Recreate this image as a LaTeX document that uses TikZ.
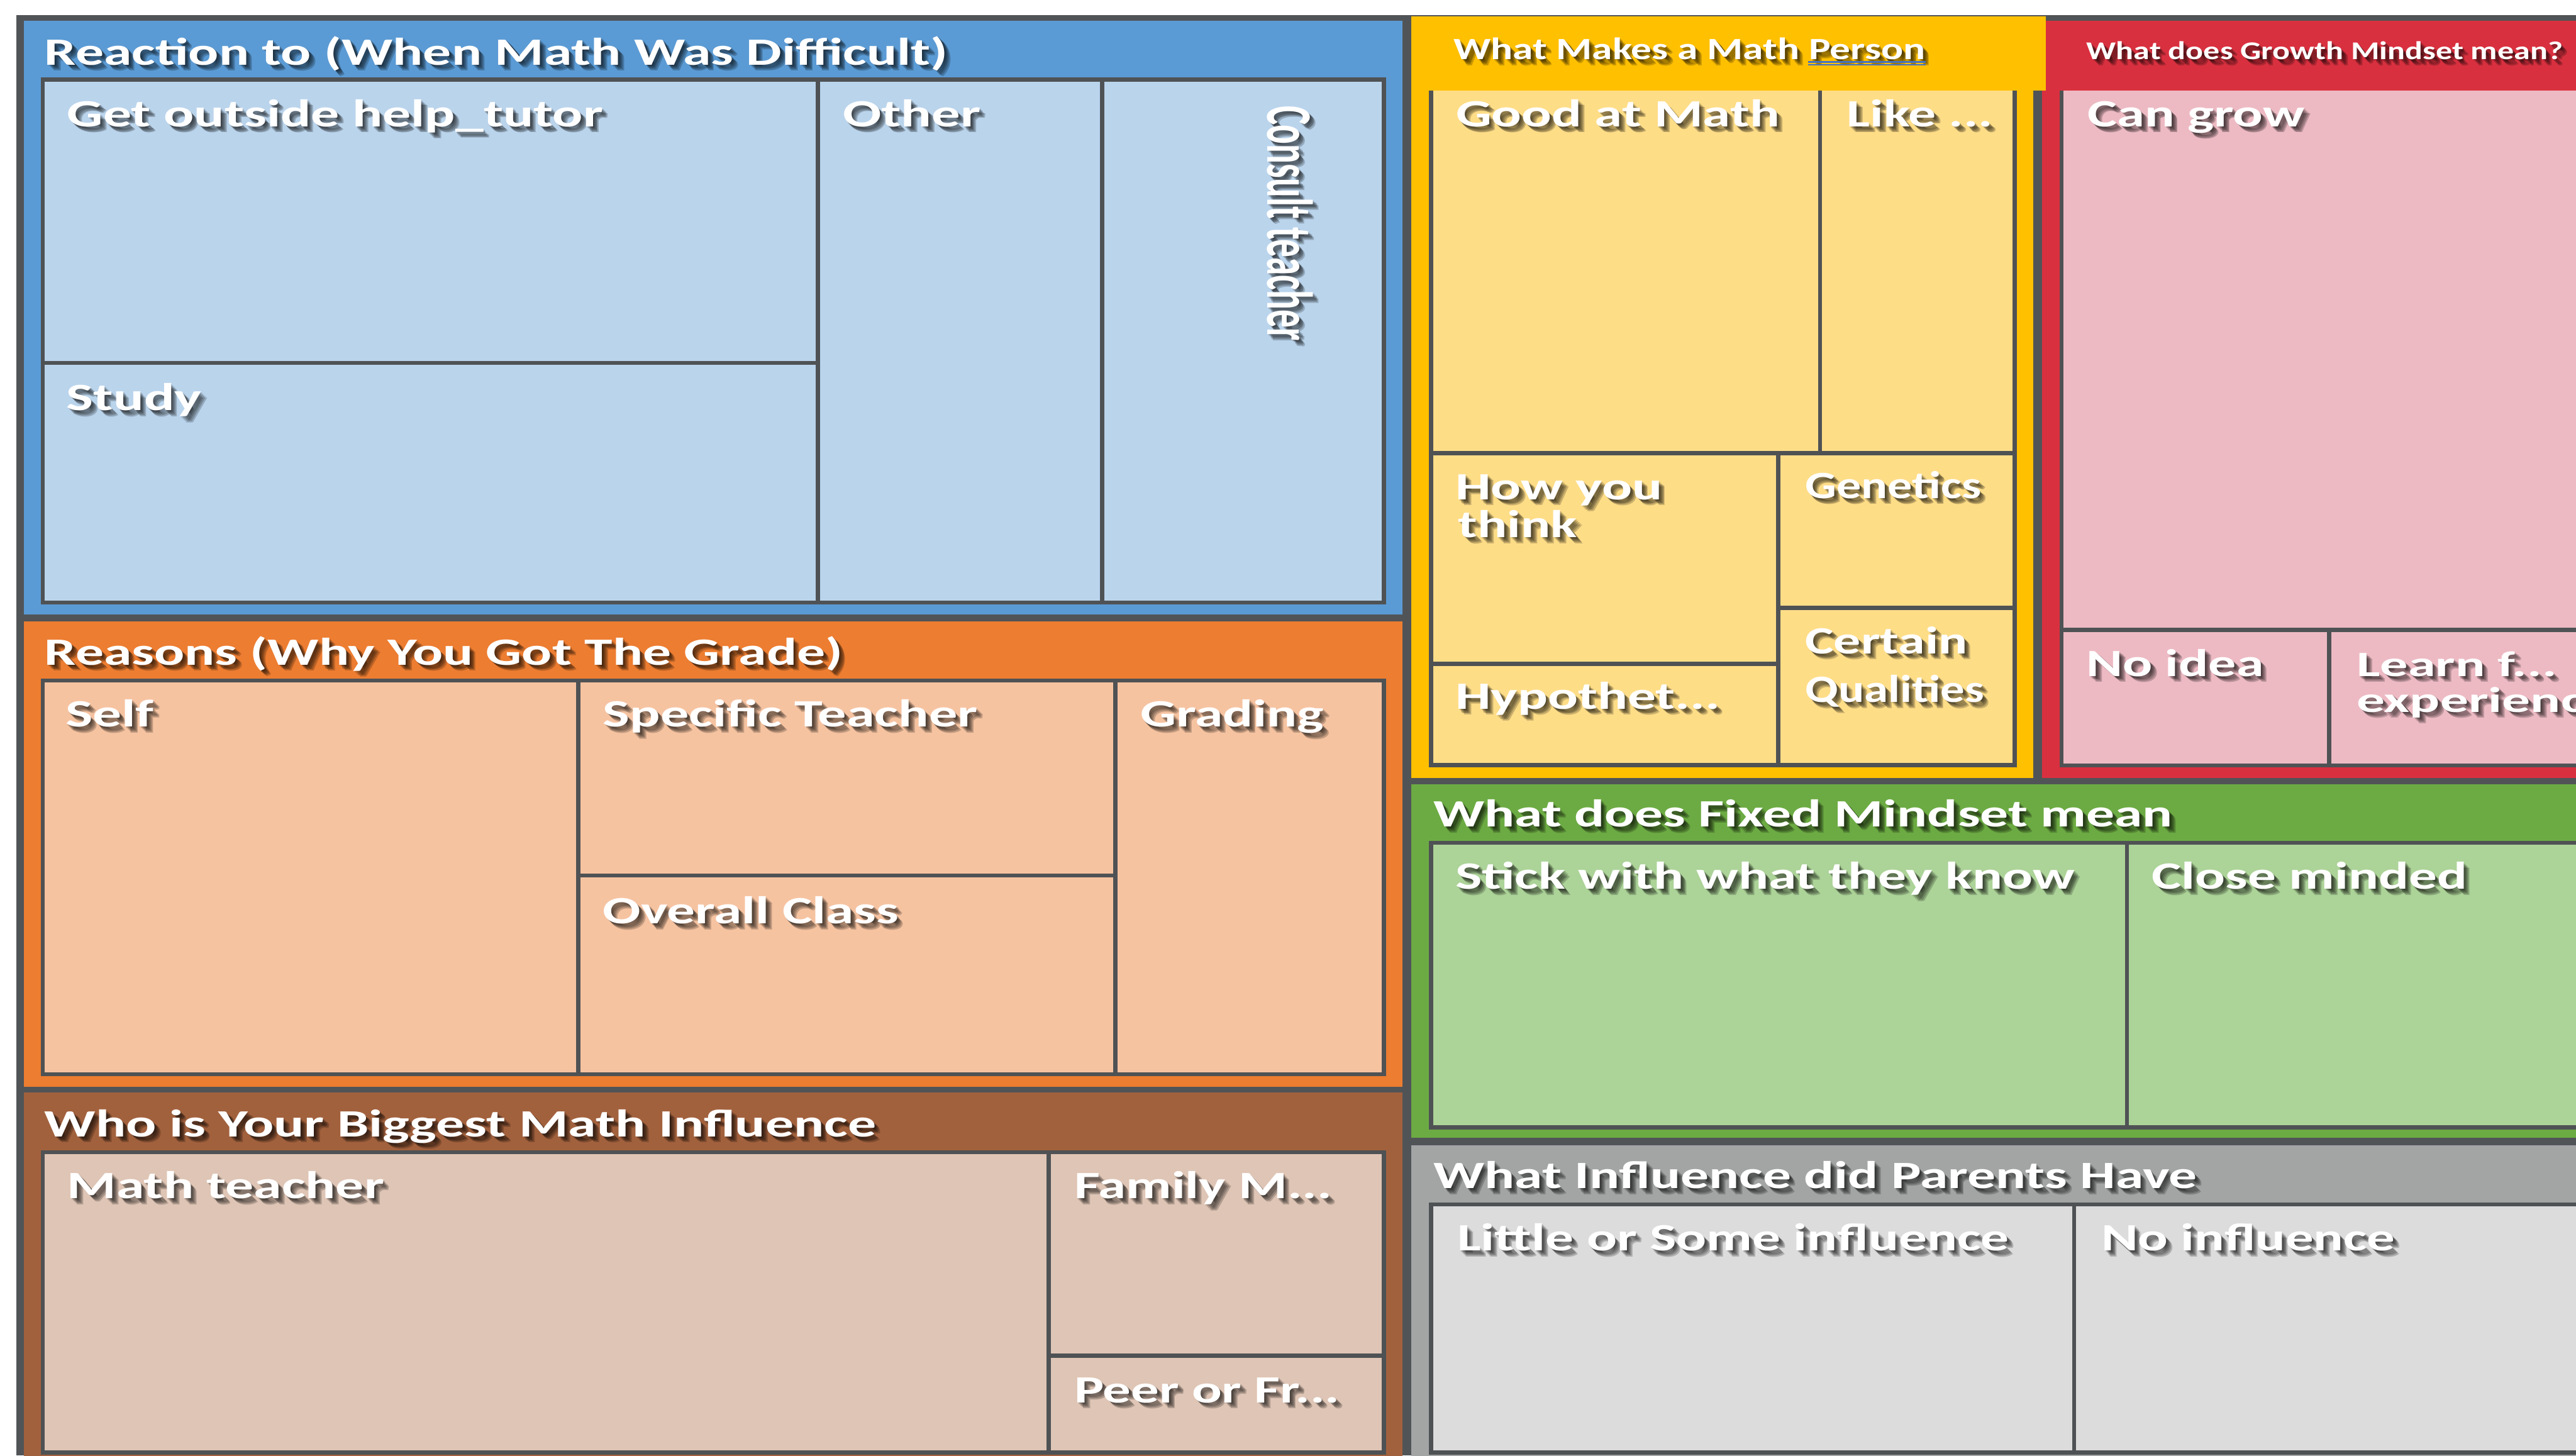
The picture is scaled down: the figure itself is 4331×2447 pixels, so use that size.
\documentclass[tikz,border=0pt]{standalone}
\usepackage{fontspec}
\usepackage{graphicx}
\newfontfamily\carl{Carlito}
\definecolor{dk}{HTML}{515457}
\definecolor{bordc}{HTML}{4F5254}
\definecolor{bF}{HTML}{5B9BD5}\definecolor{bL}{HTML}{BAD4EC}
\definecolor{oF}{HTML}{ED7D31}\definecolor{oL}{HTML}{F6C3A1}
\definecolor{wF}{HTML}{A2613D}\definecolor{wL}{HTML}{DFC5B5}
\definecolor{yF}{HTML}{FFC000}\definecolor{yL}{HTML}{FEDD87}
\definecolor{rF}{HTML}{D9303F}\definecolor{rL}{HTML}{EDBAC3}
\definecolor{gF}{HTML}{6CAB43}\definecolor{gL}{HTML}{ACD398}
\definecolor{pF}{HTML}{A3A5A5}\definecolor{pL}{HTML}{DCDCDC}
\definecolor{ulc}{HTML}{4472C4}
\newsavebox\fwbox
\newlength\fwlen
\newcommand\fw[2]{\sbox\fwbox{#2}\fwlen=\wd\fwbox\pgfmathsetmacro\fwr{#1/\fwlen}\scalebox{\fwr}[1]{\usebox\fwbox}}
\newcommand\lab[6][]{%
  \foreach \sh in {2,4,6,8,10}{\node[shd,#1] at (#3+\sh,#4+\sh) {\fw{#5}{#6}};}
  \node[lbl,#1] (#2) at (#3,#4) {\fw{#5}{#6}};}
\tikzset{
  lbl/.style={text=white,inner sep=0pt,outer sep=0pt,anchor=base west,
    font=\carl\bfseries\fontsize{65}{70}\selectfont},
  shd/.style={lbl,text=black,opacity=0.2},
  cell/.style={draw=bordc,line width=7pt},
}
\begin{document}
\begin{tikzpicture}[x=1pt,y=-1pt]
\useasboundingbox (0,0) rectangle (4331,2447);
\clip (0,0) rectangle (4331,2447);
\fill[white] (0,0) rectangle (4331,2447);
\fill[dk] (27,25) rectangle (4331,2447);
% left column frames
\fill[bF] (40,35) rectangle (2358,1033);
\fill[oF] (40,1045) rectangle (2358,1827);
\fill[wF] (40,1837) rectangle (2358,2460);
% right column frames
\fill[rF] (3433,35) rectangle (4400,1308);
\fill[yF] (2373,28) rectangle (3418,1308);
\fill[gF] (2373,1318) rectangle (4400,1913);
\fill[pF] (2373,1925) rectangle (4400,2460);
% blue cells
\filldraw[cell,fill=bL] (72,134) rectangle (1375,610);
\filldraw[cell,fill=bL] (72,610) rectangle (1375,1013);
\filldraw[cell,fill=bL] (1375,134) rectangle (1853,1013);
\filldraw[cell,fill=bL] (1853,134) rectangle (2327,1013);
% orange cells
\filldraw[cell,fill=oL] (72,1144) rectangle (972,1806);
\filldraw[cell,fill=oL] (972,1144) rectangle (1875,1472);
\filldraw[cell,fill=oL] (972,1472) rectangle (1875,1806);
\filldraw[cell,fill=oL] (1875,1144) rectangle (2327,1806);
% brown cells
\filldraw[cell,fill=wL] (72,1937) rectangle (1763,2442);
\filldraw[cell,fill=wL] (1763,1937) rectangle (2327,2279);
\filldraw[cell,fill=wL] (1763,2279) rectangle (2327,2442);
% yellow cells
\filldraw[cell,fill=yL] (2406,148) rectangle (3060,762);
\filldraw[cell,fill=yL] (3060,148) rectangle (3387,762);
\filldraw[cell,fill=yL] (2406,762) rectangle (2990,1116);
\filldraw[cell,fill=yL] (2406,1116) rectangle (2990,1286);
\filldraw[cell,fill=yL] (2990,762) rectangle (3387,1022);
\filldraw[cell,fill=yL] (2990,1022) rectangle (3387,1286);
% red cells
\filldraw[cell,fill=rL] (3466,148) rectangle (4400,1059);
\filldraw[cell,fill=rL] (3466,1059) rectangle (3916,1287);
\filldraw[cell,fill=rL] (3916,1059) rectangle (4400,1287);
% green cells
\filldraw[cell,fill=gL] (2406,1417) rectangle (3576,1895);
\filldraw[cell,fill=gL] (3576,1417) rectangle (4400,1895);
% gray cells
\filldraw[cell,fill=pL] (2406,2025) rectangle (3487,2442);
\filldraw[cell,fill=pL] (3487,2025) rectangle (4400,2442);
% title bars over top borders of yellow and red
\fill[rF] (3440,35) rectangle (4400,152);
\fill[yF] (2373,28) rectangle (3440,152);
% labels: blue
\lab{bt}{75}{109}{1519}{Reaction to (When Math Was Difficult)}
\lab{b1}{113}{213}{901}{Get outside help\_tutor}
\lab{b2}{112}{690}{227}{Study}
\lab{b3}{1417}{213}{232}{Other}
\lab[rotate=-90]{b4}{2131}{178}{395}{\scalebox{1}[1.68]{Consult teacher}}
% orange
\lab{ot}{75}{1118}{1342}{Reasons (Why You Got The Grade)}
\lab{o1}{110}{1222}{149}{Self}
\lab{o2}{1014}{1222}{630}{Specific Teacher}
\lab{o3}{1917}{1222}{309}{Grading}
\lab{o4}{1014}{1553}{497}{Overall Class}
% brown
\lab{wt}{75}{1911}{1398}{Who is Your Biggest Math Influence}
\lab{w1}{113}{2015}{533}{Math teacher}
\lab{w2}{1806}{2015}{434}{Family M...}
\lab{w3}{1806}{2358}{447}{Peer or Fr...}
% yellow
\lab[font=\carl\bfseries\fontsize{52}{56}\selectfont]{yt}{2444}{100}{793}{What Makes a Math Person}
\draw[ulc,line width=2.5pt] (3040,104) -- (3238,104);
\draw[ulc,line width=2.5pt] (3040,109) -- (3238,109);
\lab{y1}{2448}{213}{544}{Good at Math}
\lab{y2}{3105}{213}{246}{Like ...}
\lab{y3a}{2447}{840}{348}{How you}
\lab{y3b}{2452}{904}{200}{think}
\lab{y4}{3035}{838}{296}{Genetics}
\lab{y5}{2447}{1192}{445}{Hypothet...}
\lab{y6a}{3035}{1099}{273}{Certain}
\lab{y6b}{3035}{1181}{301}{Qualities}
% red
\lab[font=\carl\bfseries\fontsize{43}{46}\selectfont]{rt}{3508}{100}{801}{What does Growth Mindset mean?}
\lab{r1}{3510}{213}{365}{Can grow}
\lab{r2}{3508}{1137}{298}{No idea}
\lab[font=\carl\bfseries\fontsize{60}{64}\selectfont]{r3a}{3962}{1137}{337}{Learn f...}
\lab[font=\carl\bfseries\fontsize{60}{64}\selectfont]{r3b}{3962}{1197}{431}{experience}
% green
\lab{gt}{2410}{1390}{1243}{What does Fixed Mindset mean}
\lab{g1}{2447}{1495}{1041}{Stick with what they know}
\lab{g2}{3618}{1495}{530}{Close minded}
% gray
\lab{pt}{2410}{1998}{1284}{What Influence did Parents Have}
\lab{p1}{2450}{2103}{928}{Little or Some influence}
\lab{p2}{3533}{2103}{494}{No influence}
\end{tikzpicture}
\end{document}
